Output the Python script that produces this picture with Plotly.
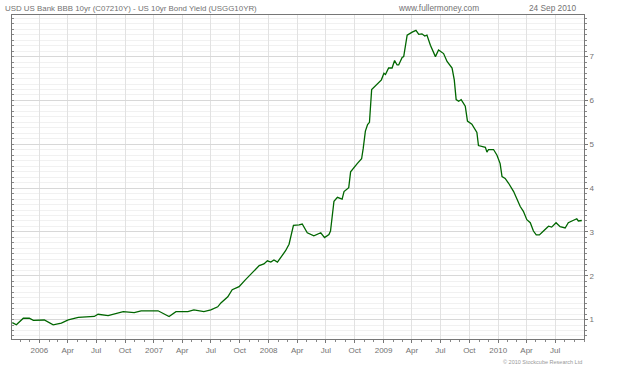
import plotly.graph_objects as go

# Spread data (BBB 10yr minus US 10yr)
dates = [
    "2005-10-07", "2005-10-20", "2005-11-11", "2005-11-30", "2005-12-13",
    "2006-01-17", "2006-02-14", "2006-03-12", "2006-04-03", "2006-05-05",
    "2006-06-25", "2006-07-07", "2006-08-08", "2006-09-25", "2006-10-30",
    "2006-11-21", "2007-01-14", "2007-02-18", "2007-03-12", "2007-04-19",
    "2007-05-08", "2007-06-09", "2007-07-01", "2007-07-23", "2007-08-02",
    "2007-08-24", "2007-09-07", "2007-09-29", "2007-10-18", "2007-11-05",
    "2007-11-16", "2007-12-02", "2007-12-17", "2007-12-28", "2008-01-08",
    "2008-01-18", "2008-01-29", "2008-02-09", "2008-02-24", "2008-03-06",
    "2008-03-20", "2008-04-07", "2008-04-17", "2008-05-03", "2008-05-24",
    "2008-06-15", "2008-06-27", "2008-07-11", "2008-07-16", "2008-07-27",
    "2008-08-07", "2008-08-22", "2008-08-28", "2008-09-12", "2008-09-18",
    "2008-10-09", "2008-10-23", "2008-10-28", "2008-11-04", "2008-11-11",
    "2008-11-17", "2008-11-24", "2008-12-03", "2008-12-13", "2008-12-25",
    "2009-01-02", "2009-01-07", "2009-01-17", "2009-01-28", "2009-02-05",
    "2009-02-13", "2009-02-18", "2009-03-01", "2009-03-06", "2009-03-17",
    "2009-04-02", "2009-04-14", "2009-04-23", "2009-05-03", "2009-05-12",
    "2009-05-19", "2009-05-30", "2009-06-15", "2009-06-25", "2009-07-11",
    "2009-07-22", "2009-08-07", "2009-08-14", "2009-08-20", "2009-08-28",
    "2009-09-05", "2009-09-18", "2009-09-25", "2009-10-09", "2009-10-25",
    "2009-10-30", "2009-11-21", "2009-11-26", "2009-12-01", "2009-12-17",
    "2009-12-28", "2010-01-07", "2010-01-13", "2010-01-23", "2010-02-03",
    "2010-02-19", "2010-03-01", "2010-03-12", "2010-03-22", "2010-04-02",
    "2010-04-13", "2010-04-23", "2010-05-02", "2010-05-12", "2010-05-25",
    "2010-06-10", "2010-06-20", "2010-07-04", "2010-07-17", "2010-08-02",
    "2010-08-12", "2010-08-28", "2010-09-08", "2010-09-13", "2010-09-24",
]
spread = [
    0.93, 0.88, 1.03, 1.03, 0.98,
    0.99, 0.88, 0.92, 0.99, 1.05,
    1.07, 1.12, 1.09, 1.18, 1.16,
    1.20, 1.20, 1.07, 1.18, 1.18,
    1.22, 1.18, 1.22, 1.29, 1.38,
    1.52, 1.68, 1.75, 1.90, 2.04,
    2.12, 2.23, 2.27, 2.34, 2.31,
    2.36, 2.31, 2.42, 2.57, 2.72,
    3.15, 3.16, 3.18, 2.98, 2.91,
    2.98, 2.87, 2.94, 3.02, 3.70,
    3.79, 3.75, 3.92, 4.01, 4.37,
    4.56, 4.67, 4.90, 5.30, 5.45,
    5.50, 6.25, 6.32, 6.38, 6.47,
    6.62, 6.59, 6.74, 6.74, 6.91,
    6.81, 6.81, 6.98, 7.00, 7.49,
    7.56, 7.60, 7.51, 7.52, 7.47,
    7.49, 7.26, 7.00, 7.15, 7.07,
    6.89, 6.74, 6.47, 6.02, 5.98,
    6.02, 5.87, 5.53, 5.46, 5.27,
    4.97, 4.93, 4.82, 4.88, 4.88,
    4.75, 4.56, 4.26, 4.22, 4.11,
    3.92, 3.77, 3.58, 3.47, 3.28,
    3.21, 3.02, 2.93, 2.93, 3.02,
    3.13, 3.11, 3.21, 3.12, 3.09,
    3.21, 3.26, 3.30, 3.25, 3.26,
]

quarter_ticks = [
    "2006-01-01", "2006-04-01", "2006-07-01", "2006-10-01",
    "2007-01-01", "2007-04-01", "2007-07-01", "2007-10-01",
    "2008-01-01", "2008-04-01", "2008-07-01", "2008-10-01",
    "2009-01-01", "2009-04-01", "2009-07-01", "2009-10-01",
    "2010-01-01", "2010-04-01", "2010-07-01",
]
quarter_labels = [
    "2006", "Apr", "Jul", "Oct",
    "2007", "Apr", "Jul", "Oct",
    "2008", "Apr", "Jul", "Oct",
    "2009", "Apr", "Jul", "Oct",
    "2010", "Apr", "Jul",
]
y_ticks = [1, 2, 3, 4, 5, 6, 7]

FONT = "Liberation Sans, Arial, sans-serif"
GREY = "#727272"

fig = go.Figure()
fig.add_trace(go.Scatter(
    x=dates, y=spread, mode="lines",
    line=dict(color="#006600", width=1.3),
    showlegend=False, hoverinfo="skip",
))
# invisible helper trace so the left-side tick axis is drawn
fig.add_trace(go.Scatter(
    x=[dates[0]], y=[spread[0]], yaxis="y2", mode="lines",
    line=dict(width=0), showlegend=False, hoverinfo="skip",
))

fig.update_layout(
    width=640, height=366,
    margin=dict(l=11, r=56, t=15, b=23),
    paper_bgcolor="white", plot_bgcolor="white",
    font=dict(family=FONT, size=8, color=GREY),
    xaxis=dict(
        type="date", range=["2005-10-06", "2010-10-01"],
        tickmode="array", tickvals=quarter_ticks, ticktext=quarter_labels,
        ticks="outside", ticklen=3, tickcolor="#777777",
        showgrid=True, gridcolor="#e2e2e2", gridwidth=1,
        showline=True, linecolor="#777777", linewidth=1, mirror=True,
        zeroline=False,
        tickfont=dict(family=FONT, size=8, color=GREY),
        minor=dict(dtick="M1", tick0="2006-01-01", ticks="outside",
                   ticklen=2, tickcolor="#888888", showgrid=False),
    ),
    yaxis=dict(
        side="right", range=[0.556, 7.95],
        tickmode="array", tickvals=y_ticks,
        ticks="outside", ticklen=3, tickcolor="#777777",
        showgrid=True, gridcolor="#d8d8d8", gridwidth=1,
        showline=True, linecolor="#777777", linewidth=1, mirror=True,
        zeroline=False,
        tickfont=dict(family=FONT, size=8, color=GREY),
        minor=dict(dtick=0.125, tick0=0, ticks="outside", ticklen=2,
                   tickcolor="#888888", showgrid=True, gridcolor="#f1f1f1"),
    ),
    yaxis2=dict(
        overlaying="y", side="left", matches="y",
        showgrid=False, zeroline=False, showline=False,
        showticklabels=False, tickmode="linear", tick0=0, dtick=0.125,
        ticks="inside", ticklen=2, tickcolor="#888888",
    ),
    annotations=[
        dict(text="USD US Bank BBB 10yr (C07210Y) - US 10yr Bond Yield (USGG10YR)",
             xref="paper", yref="paper", x=-0.0157, y=1.021,
             xanchor="left", yanchor="middle", showarrow=False,
             font=dict(family=FONT, size=7.9, color=GREY)),
        dict(text="www.fullermoney.com",
             xref="paper", yref="paper", x=0.820, y=1.021,
             xanchor="right", yanchor="middle", showarrow=False,
             font=dict(family=FONT, size=8.3, color=GREY)),
        dict(text="24 Sep 2010",
             xref="paper", yref="paper", x=0.9895, y=1.021,
             xanchor="right", yanchor="middle", showarrow=False,
             font=dict(family=FONT, size=8.3, color=GREY)),
        dict(text="© 2010 Stockcube Research Ltd",
             xref="paper", yref="paper", x=1.0, y=-0.07,
             xanchor="right", yanchor="middle", showarrow=False,
             font=dict(family=FONT, size=5.5, color="#999999")),
    ],
)

fig.write_html("out.html")
